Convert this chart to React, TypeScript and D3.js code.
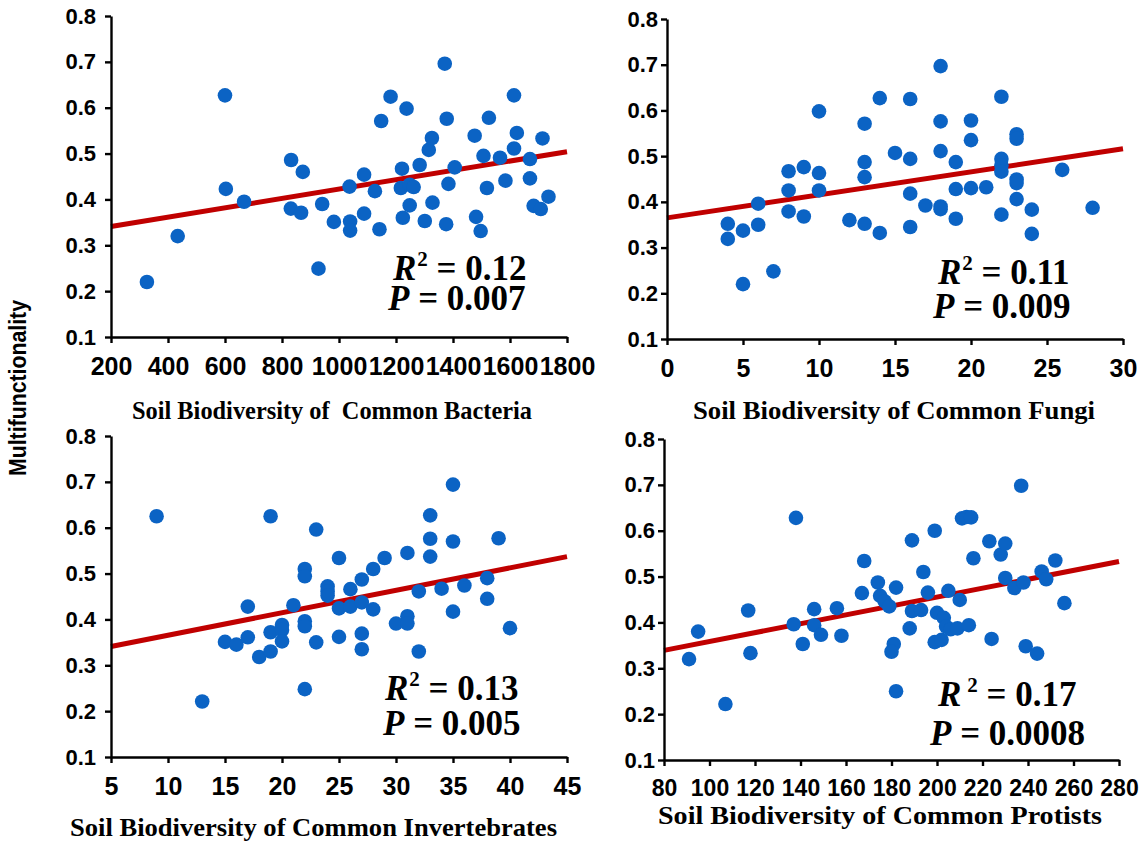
import * as d3 from "d3";
import { useEffect, useRef } from "react";

type Pt = [number, number];

// values: [diversity, multifunctionality]
const bacteria: Pt[] = [
  [326, 0.22], [434, 0.32], [600, 0.627], [603, 0.423], [667, 0.395], [832, 0.486],
  [831, 0.38], [867, 0.371], [873, 0.46], [928, 0.249], [941, 0.39], [982, 0.351],
  [1037, 0.428], [1039, 0.352], [1039, 0.332], [1088, 0.454], [1088, 0.369], [1126, 0.418],
  [1142, 0.335], [1148, 0.571], [1181, 0.624], [1237, 0.598], [1221, 0.467], [1217, 0.425],
  [1224, 0.36], [1248, 0.432], [1262, 0.427], [1248, 0.387], [1283, 0.475], [1301, 0.353],
  [1315, 0.508], [1326, 0.534], [1328, 0.393], [1371, 0.696], [1378, 0.576], [1384, 0.434],
  [1376, 0.346], [1406, 0.47], [1476, 0.539], [1481, 0.362], [1497, 0.331], [1507, 0.495],
  [1519, 0.425], [1526, 0.578], [1565, 0.491], [1584, 0.441], [1614, 0.627], [1624, 0.545],
  [1614, 0.511], [1670, 0.488], [1670, 0.446], [1683, 0.386], [1708, 0.379], [1714, 0.533],
  [1735, 0.406],
];

const fungi: Pt[] = [
  [4, 0.352], [4, 0.319], [5, 0.337], [5, 0.22], [6, 0.35], [6, 0.396], [7, 0.248],
  [8, 0.467], [8, 0.425], [8, 0.379], [9, 0.476], [9, 0.368], [10, 0.598], [10, 0.463],
  [10, 0.425], [12, 0.36], [13, 0.571], [13, 0.487], [13, 0.454], [13, 0.352], [14, 0.627],
  [14, 0.332], [15, 0.507], [16, 0.625], [16, 0.494], [16, 0.418], [16, 0.345], [17, 0.392],
  [18, 0.697], [18, 0.576], [18, 0.511], [18, 0.39], [18, 0.384], [19, 0.487], [19, 0.428],
  [19, 0.363], [20, 0.578], [20, 0.535], [20, 0.43], [21, 0.432], [22, 0.63], [22, 0.494],
  [22, 0.48], [22, 0.466], [22, 0.372], [23, 0.548], [23, 0.538], [23, 0.449], [23, 0.441],
  [23, 0.406], [24, 0.383], [24, 0.33], [26, 0.47], [28, 0.387],
];

const invertebrates: Pt[] = [
  [9, 0.625], [13, 0.221], [15, 0.351], [16, 0.345], [17, 0.428], [17, 0.361], [18, 0.318],
  [19, 0.625], [19, 0.372], [19, 0.33], [20, 0.388], [20, 0.377], [20, 0.352], [21, 0.431],
  [22, 0.51], [22, 0.494], [22, 0.396], [22, 0.385], [22, 0.248], [23, 0.596], [23, 0.35],
  [24, 0.472], [24, 0.461], [24, 0.452], [25, 0.534], [25, 0.424], [25, 0.362], [26, 0.466],
  [26, 0.428], [27, 0.487], [27, 0.437], [27, 0.369], [27, 0.335], [28, 0.51], [28, 0.422],
  [29, 0.534], [30, 0.391], [31, 0.545], [31, 0.407], [31, 0.391], [32, 0.461], [32, 0.33],
  [33, 0.627], [33, 0.576], [33, 0.537], [34, 0.467], [35, 0.694], [35, 0.57], [35, 0.417],
  [36, 0.474], [38, 0.49], [38, 0.445], [39, 0.577], [40, 0.381],
];

const protists: Pt[] = [
  [91, 0.32], [95, 0.38], [107, 0.222], [117, 0.426], [118, 0.333], [137, 0.396], [138, 0.628],
  [141, 0.353], [146, 0.429], [146, 0.394], [149, 0.373], [156, 0.431], [158, 0.371],
  [167, 0.464], [168, 0.534], [174, 0.487], [175, 0.458], [177, 0.446], [179, 0.435],
  [182, 0.476], [181, 0.353], [180, 0.336], [182, 0.25], [188, 0.387], [189, 0.579],
  [189, 0.425], [193, 0.427], [194, 0.51], [196, 0.465], [199, 0.6], [199, 0.357], [202, 0.362],
  [200, 0.421], [203, 0.41], [204, 0.391], [206, 0.385], [209, 0.387], [214, 0.394],
  [205, 0.469], [210, 0.449], [211, 0.627], [213, 0.63], [215, 0.629], [216, 0.54], [223, 0.577],
  [224, 0.364], [228, 0.548], [230, 0.572], [230, 0.497], [234, 0.475], [238, 0.487],
  [237, 0.698], [239, 0.348], [244, 0.332], [246, 0.511], [248, 0.494], [252, 0.535], [256, 0.442],
];

const yTicks = [0.1, 0.2, 0.3, 0.4, 0.5, 0.6, 0.7, 0.8];
const bacteriaTicks = [200, 400, 600, 800, 1000, 1200, 1400, 1600, 1800];
const fungiTicks = [0, 5, 10, 15, 20, 25, 30];
const invertebrateTicks = [5, 10, 15, 20, 25, 30, 35, 40, 45];
const protistTicks = [80, 100, 120, 140, 160, 180, 200, 220, 240, 260, 280];

// fitted line: multifunctionality at the left and right end of the x axis
const bacteriaFit = [0.341, 0.504];
const fungiFit = [0.365, 0.516];
const invertebrateFit = [0.341, 0.537];
const protistFit = [0.339, 0.533];

const r2Values = ["0.12", "0.11", "0.13", "0.17"];
const pValues = ["0.007", "0.009", "0.005", "0.0008"];
const titles = [
  "Soil Biodiversity of  Common Bacteria",
  "Soil Biodiversity of Common Fungi",
  "Soil Biodiversity of Common Invertebrates",
  "Soil Biodiversity of Common Protists",
];

const series = [bacteria, fungi, invertebrates, protists];
const xTickSets = [bacteriaTicks, fungiTicks, invertebrateTicks, protistTicks];
const fits = [bacteriaFit, fungiFit, invertebrateFit, protistFit];

// pixel layout of each panel
const layout = [
  { x0: 111, x1: 567, y0: 16, y1: 337, yPad: 9, xFont: 25, tx: 132, tw: 400, ty: 419, r2: [393, 280], p: [388, 310] },
  { x0: 667, x1: 1123, y0: 19, y1: 339, yPad: 3, xFont: 25, tx: 693, tw: 402, ty: 419, r2: [938, 284], p: [933, 318] },
  { x0: 111, x1: 567, y0: 436, y1: 757, yPad: 9, xFont: 25, tx: 70, tw: 487, ty: 836, r2: [385, 700], p: [383, 735] },
  { x0: 664, x1: 1119, y0: 439, y1: 760, yPad: 3, xFont: 23, tx: 658, tw: 444, ty: 824, r2: [938, 706], p: [930, 745] },
];

const SANS = "Arial, 'Liberation Sans', sans-serif";
const SERIF = "'Times New Roman', 'Liberation Serif', serif";

const Panel = ({ i }: { i: number }) => {
  const ref = useRef<SVGGElement>(null);

  useEffect(() => {
    if (!ref.current) return;
    const g = d3.select(ref.current);
    g.selectAll("*").remove();

    const L = layout[i];
    const ticks = xTickSets[i];
    const x = d3.scaleLinear().domain(d3.extent(ticks) as [number, number]).range([L.x0, L.x1]);
    const y = d3.scaleLinear().domain([0.1, 0.8]).range([L.y1, L.y0]);

    // regression line
    const line = d3
      .line<Pt>()
      .x((d) => x(d[0]))
      .y((d) => y(d[1]));
    const dom = x.domain();
    g.append("path")
      .attr("d", line([[dom[0], fits[i][0]], [dom[1], fits[i][1]]]))
      .attr("stroke", "#C00000")
      .attr("stroke-width", 5)
      .attr("fill", "none");

    // points
    g.selectAll("circle")
      .data(series[i])
      .join("circle")
      .attr("cx", (d) => x(d[0]))
      .attr("cy", (d) => y(d[1]))
      .attr("r", 7.3)
      .attr("fill", "#0B63C4");

    // axes
    const yAxis = g
      .append("g")
      .attr("transform", `translate(${L.x0},0)`)
      .call(
        d3.axisLeft(y).tickValues(yTicks).tickFormat(d3.format(".1f")).tickSize(6).tickSizeOuter(0).tickPadding(L.yPad)
      );
    yAxis.attr("font-family", SANS).attr("font-size", 22).attr("font-weight", "bold");

    const xAxis = g
      .append("g")
      .attr("transform", `translate(0,${L.y1})`)
      .call(d3.axisBottom(x).tickValues(ticks).tickFormat(d3.format("d")).tickSize(6).tickSizeOuter(0).tickPadding(14));
    xAxis.attr("font-family", SANS).attr("font-size", L.xFont).attr("font-weight", "bold");

    [yAxis, xAxis].forEach((a) => {
      a.select(".domain").attr("stroke", "#000").attr("stroke-width", 2.4);
      a.selectAll(".tick line").attr("stroke", "#000").attr("stroke-width", 2.4);
      a.selectAll(".tick text").attr("fill", "#000");
    });

    // axis title
    g.append("text")
      .attr("x", L.tx)
      .attr("y", L.ty)
      .attr("font-family", SERIF)
      .attr("font-weight", "bold")
      .attr("font-size", 25)
      .attr("textLength", L.tw)
      .attr("lengthAdjust", "spacingAndGlyphs")
      .style("white-space", "pre")
      .text(titles[i]);

    // statistics
    const r2 = g
      .append("text")
      .attr("x", L.r2[0])
      .attr("y", L.r2[1])
      .attr("font-family", SERIF)
      .attr("font-weight", "bold")
      .attr("font-size", 35);
    r2.append("tspan").attr("font-style", "italic").text("R");
    r2.append("tspan").attr("font-size", 21).attr("dy", -14).attr("dx", i === 3 ? 6 : 1).text("2");
    r2.append("tspan").attr("dy", 14).text(` = ${r2Values[i]}`);

    const p = g
      .append("text")
      .attr("x", L.p[0])
      .attr("y", L.p[1])
      .attr("font-family", SERIF)
      .attr("font-weight", "bold")
      .attr("font-size", 35);
    p.append("tspan").attr("font-style", "italic").text("P");
    p.append("tspan").text(` = ${pValues[i]}`);
  }, [i]);

  return <g ref={ref} />;
};

export default function App() {
  return (
    <svg
      width={1146}
      height={845}
      style={{ position: "absolute", left: 0, top: 0, background: "#fff" }}
    >
      <text
        transform="translate(26,388) rotate(-90)"
        textAnchor="middle"
        fontFamily={SANS}
        fontWeight="bold"
        fontSize={24}
        textLength={176}
        lengthAdjust="spacingAndGlyphs"
      >
        Multifunctionality
      </text>
      {[0, 1, 2, 3].map((i) => (
        <Panel key={i} i={i} />
      ))}
    </svg>
  );
}
